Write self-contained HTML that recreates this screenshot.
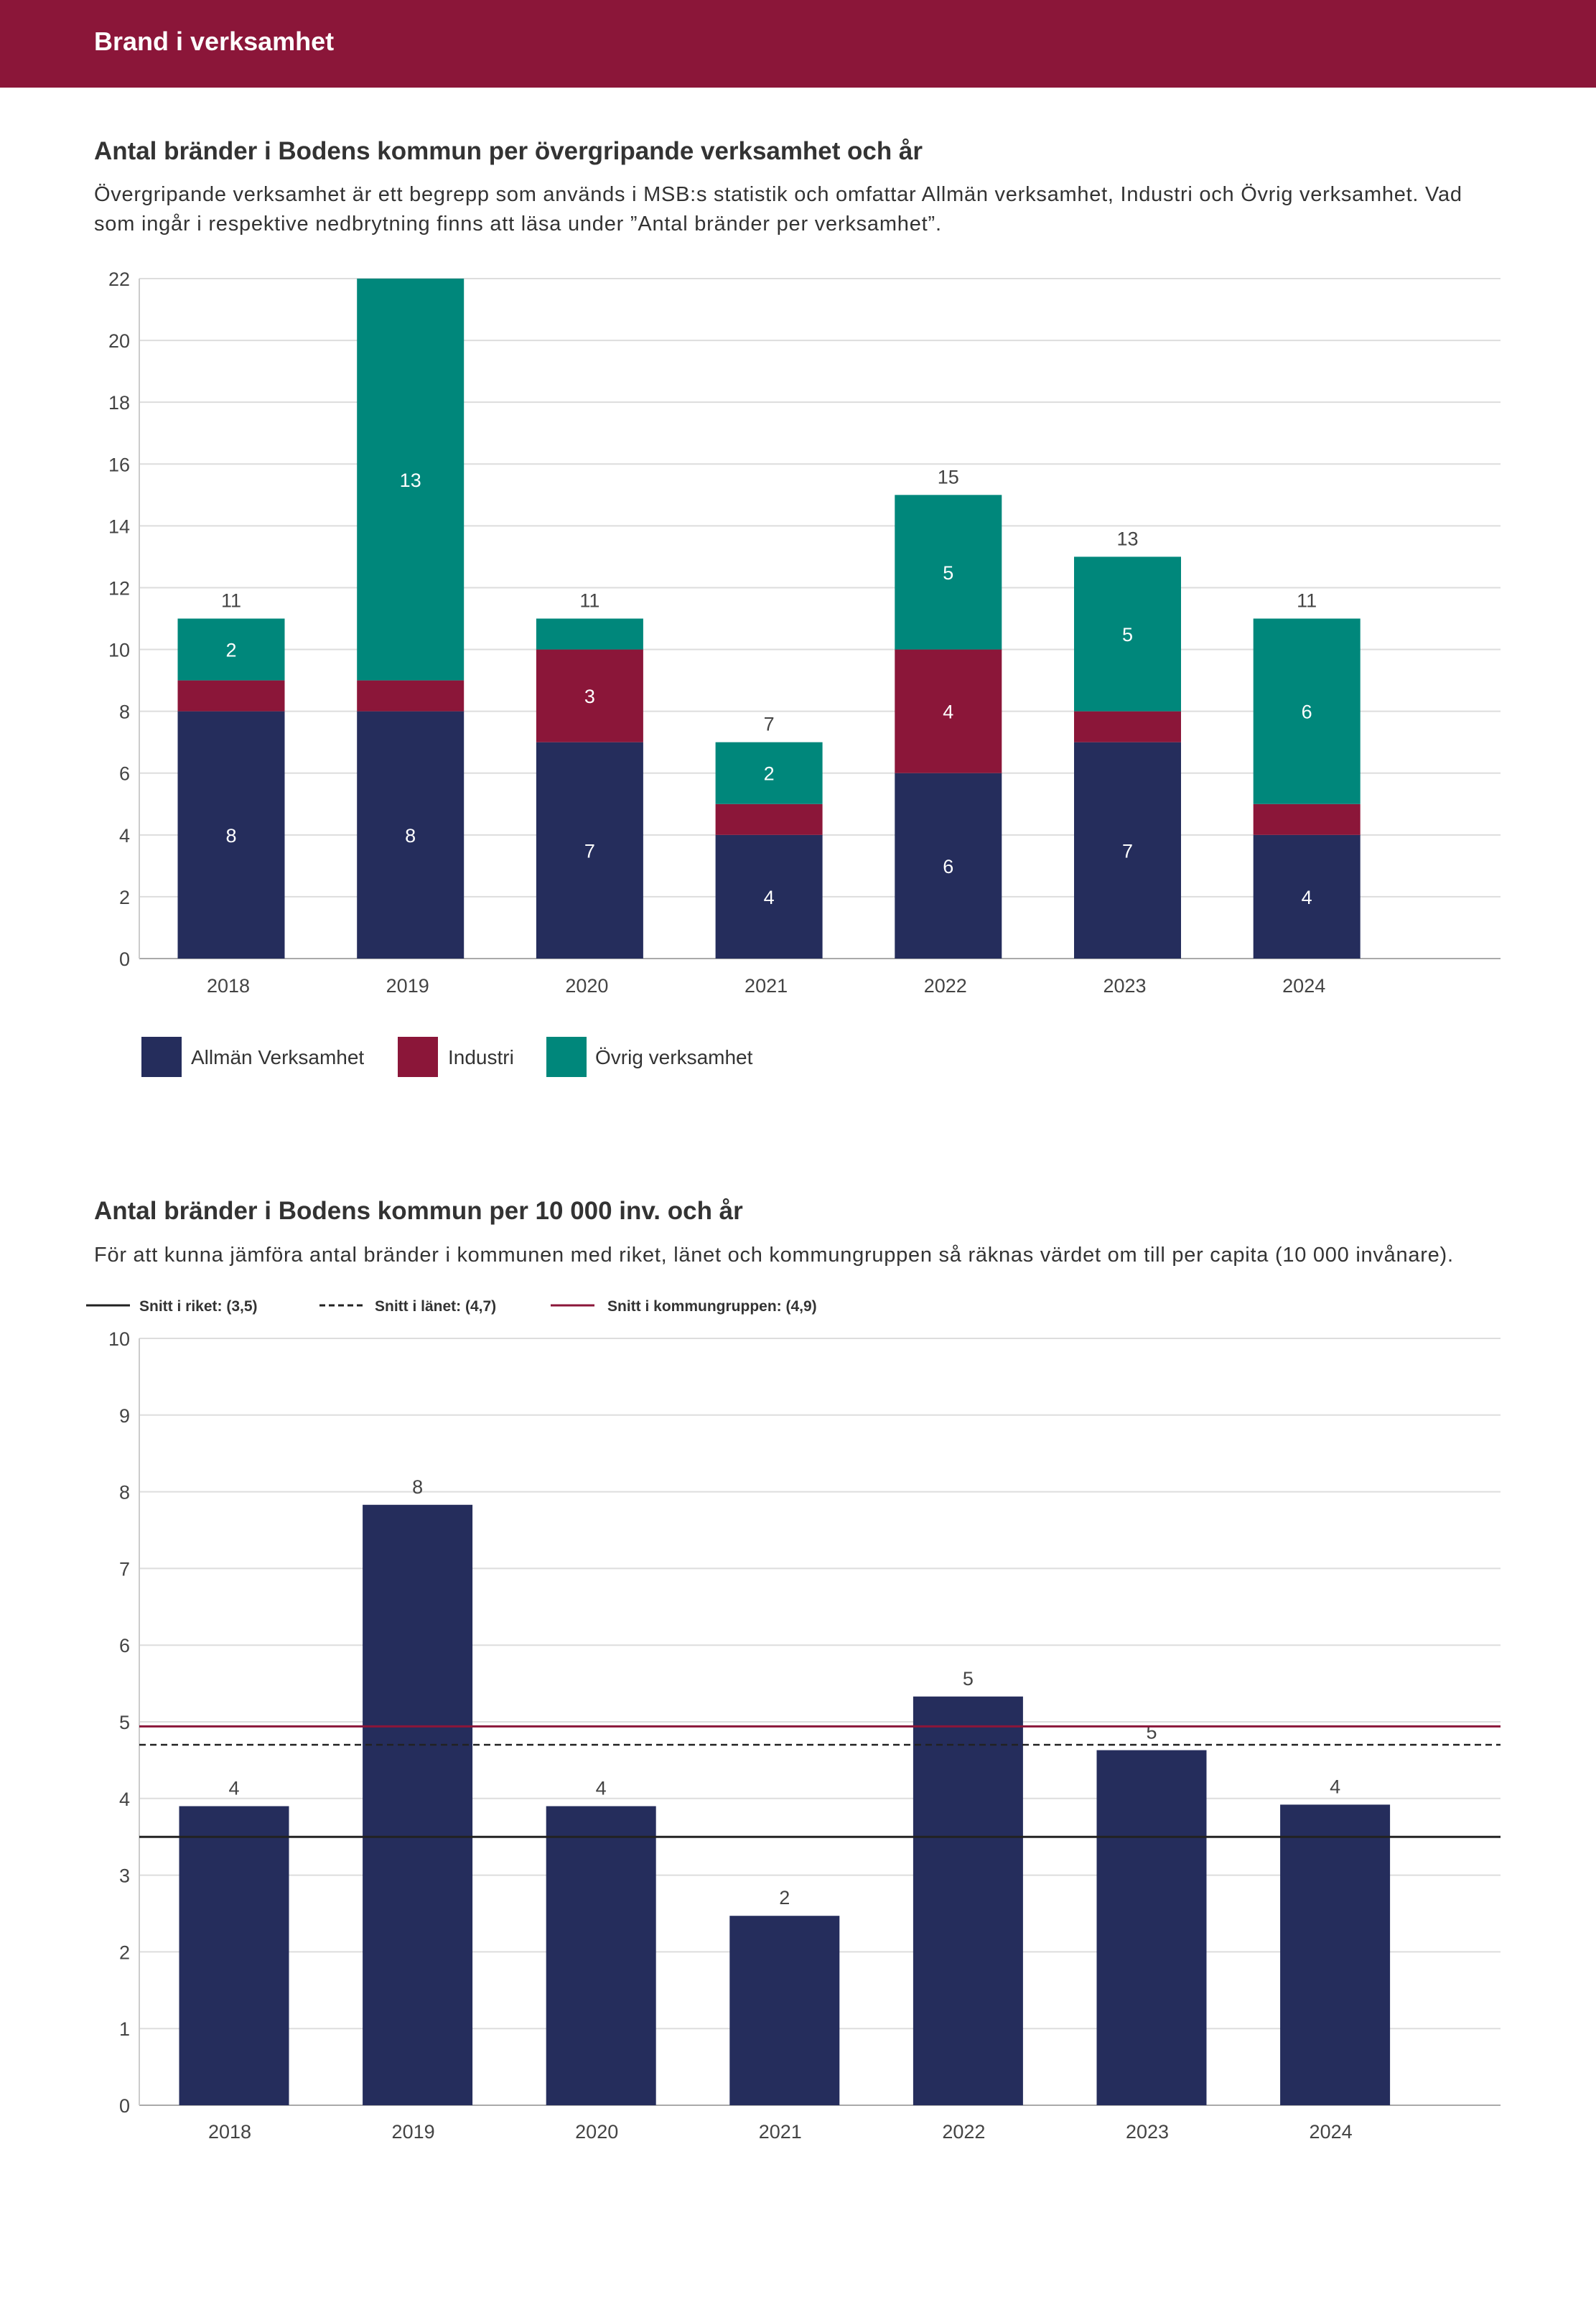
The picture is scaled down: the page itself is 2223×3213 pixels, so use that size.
<!DOCTYPE html>
<html><head><meta charset="utf-8"><style>
html,body{margin:0;padding:0;background:#fff}
svg{display:block;font-family:"Liberation Sans",sans-serif}
</style></head><body>
<svg id="page" width="2223" height="3213" viewBox="0 0 2223 3213">
<rect x="0" y="0" width="2223" height="122" fill="#8b1639"/>
<text x="131" y="70" font-size="36" font-weight="bold" fill="#fff">Brand i verksamhet</text>
<text x="131" y="222" font-size="35" font-weight="bold" fill="#333" textLength="1154">Antal bränder i Bodens kommun per övergripande verksamhet och år</text>
<text x="131" y="280" font-size="29" fill="#333" textLength="1905">Övergripande verksamhet är ett begrepp som används i MSB:s statistik och omfattar Allmän verksamhet, Industri och Övrig verksamhet. Vad</text>
<text x="131" y="321" font-size="29" fill="#333" textLength="1180">som ingår i respektive nedbrytning finns att läsa under ”Antal bränder per verksamhet”.</text>
<g id="chart1"></g>
<g>
<rect x="197" y="1444" width="56" height="56" fill="#252d5c"/>
<text x="266" y="1482" font-size="28" fill="#333">Allmän Verksamhet</text>
<rect x="554" y="1444" width="56" height="56" fill="#8b1639"/>
<text x="624" y="1482" font-size="28" fill="#333">Industri</text>
<rect x="761" y="1444" width="56" height="56" fill="#00877b"/>
<text x="829" y="1482" font-size="28" fill="#333">Övrig verksamhet</text>
</g>
<text x="131" y="1698" font-size="35" font-weight="bold" fill="#333">Antal bränder i Bodens kommun per 10 000 inv. och år</text>
<text x="131" y="1757" font-size="29" fill="#333" textLength="1893">För att kunna jämföra antal bränder i kommunen med riket, länet och kommungruppen så räknas värdet om till per capita (10 000 invånare).</text>
<g>
<line x1="120" y1="1818" x2="181" y2="1818" stroke="#222" stroke-width="3"/>
<text x="194" y="1826" font-size="21" font-weight="bold" fill="#333">Snitt i riket: (3,5)</text>
<line x1="445" y1="1818" x2="508" y2="1818" stroke="#222" stroke-width="3" stroke-dasharray="8,5"/>
<text x="522" y="1826" font-size="21" font-weight="bold" fill="#333">Snitt i länet: (4,7)</text>
<line x1="767" y1="1818" x2="828" y2="1818" stroke="#8b1639" stroke-width="3"/>
<text x="846" y="1826" font-size="21" font-weight="bold" fill="#333">Snitt i kommungruppen: (4,9)</text>
</g>
<g id="chart2"></g>
</svg>
<script>
const years = ["2018","2019","2020","2021","2022","2023","2024"];
const allman = [8,8,7,4,6,7,4];
const industri = [1,1,3,1,4,1,1];
const ovrig = [2,13,1,2,5,5,6];
const ticks1 = [0,2,4,6,8,10,12,14,16,18,20,22];
const perCapita = [3.9,7.83,3.9,2.47,5.33,4.63,3.92];
const perCapitaLabels = ["4","8","4","2","5","5","4"];
const ticks2 = [0,1,2,3,4,5,6,7,8,9,10];
const refRiket = 3.5;
const refLanet = 4.7;
const refKommungrupp = 4.94;

const NS="http://www.w3.org/2000/svg";
function mk(parent,tag,attrs,txt){const e=document.createElementNS(NS,tag);for(const k in attrs)e.setAttribute(k,attrs[k]);if(txt!==undefined)e.textContent=txt;parent.appendChild(e);return e;}

// Chart 1
(function(){
const g=document.getElementById('chart1');
const L=194,R=2090,T=388,B=1335,max=22;
const y=v=>B-(v/max)*(B-T);
const step=249.7, x0=322, bw=149;
const xc=i=>x0+i*step;
ticks1.forEach(t=>{
  const ln=mk(g,'line',{x1:L,x2:R,y1:y(t),y2:y(t),stroke:t===0?'#aaa':'#ddd','stroke-width':2});
  
  
  const tx=mk(g,'text',{x:181,y:y(t)+10,'font-size':27,fill:'#444','text-anchor':'end'},String(t));
  
  
});
const ax=mk(g,'line',{x1:L,x2:L,y1:T,y2:B,stroke:'#ccc','stroke-width':2});


const series=[[allman,'#252d5c','allman'],[industri,'#8b1639','industri'],[ovrig,'#00877b','ovrig']];
years.forEach((yr,i)=>{
  let base=0;
  series.forEach(([arr,col,nm])=>{
    const v=arr[i];
    const r=mk(g,'rect',{x:xc(i)-bw/2,y:y(base+v),width:bw,height:y(base)-y(base+v),fill:col});
    
    
    if(v>=2){
      const t=mk(g,'text',{x:xc(i),y:y(base+v/2)+10,'font-size':27,fill:'#fff','text-anchor':'middle'},String(v));
      
      
    }
    base+=v;
  });
  if(base<max){
    const t=mk(g,'text',{x:xc(i),y:y(base)-16,'font-size':27,fill:'#444','text-anchor':'middle'},String(base));
    
    
  }
  const xl=mk(g,'text',{x:xc(i)-4,y:1382,'font-size':27,fill:'#444','text-anchor':'middle'},yr);
  
  
});
})();

// Chart 2
(function(){
const g=document.getElementById('chart2');
const L=194,R=2090,T=1864,B=2932,max=10;
const y=v=>B-(v/max)*(B-T);
const step=255.6, x0=326, bw=153;
const xc=i=>x0+i*step;
ticks2.forEach(t=>{
  const ln=mk(g,'line',{x1:L,x2:R,y1:y(t),y2:y(t),stroke:t===0?'#aaa':'#ddd','stroke-width':2});
  
  
  const tx=mk(g,'text',{x:181,y:y(t)+10,'font-size':27,fill:'#444','text-anchor':'end'},String(t));
  
  
});
const ax=mk(g,'line',{x1:L,x2:L,y1:T,y2:B,stroke:'#ccc','stroke-width':2});


years.forEach((yr,i)=>{
  const v=perCapita[i];
  const r=mk(g,'rect',{x:xc(i)-bw/2,y:y(v),width:bw,height:B-y(v),fill:'#252d5c'});
  
  
  const t=mk(g,'text',{x:xc(i),y:y(v)-16,'font-size':27,fill:'#444','text-anchor':'middle'},perCapitaLabels[i]);
  
  
  const xl=mk(g,'text',{x:xc(i)-6,y:2978,'font-size':27,fill:'#444','text-anchor':'middle'},yr);
  
  
});
const l1=mk(g,'line',{x1:L,x2:R,y1:y(refRiket),y2:y(refRiket),stroke:'#222','stroke-width':3});


const l2=mk(g,'line',{x1:L,x2:R,y1:y(refLanet),y2:y(refLanet),stroke:'#222','stroke-width':2.5,'stroke-dasharray':'9,6'});


const l3=mk(g,'line',{x1:L,x2:R,y1:y(refKommungrupp),y2:y(refKommungrupp),stroke:'#8b1639','stroke-width':3});


})();
</script>
</body></html>
